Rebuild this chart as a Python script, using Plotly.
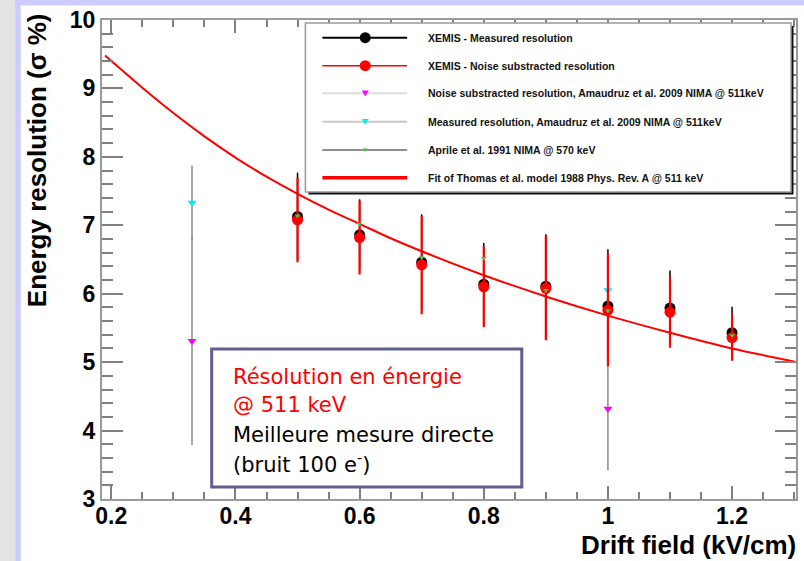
import plotly.graph_objects as go

# ---------------- data ----------------
field_xemis = [0.5, 0.6, 0.7, 0.8, 0.9, 1.0, 1.1, 1.2]
res_measured = [7.13, 6.86, 6.46, 6.14, 6.11, 5.82, 5.79, 5.43]
err_measured = [0.64, 0.52, 0.70, 0.60, 0.76, 0.83, 0.55, 0.38]
res_noise_sub = [7.08, 6.82, 6.42, 6.10, 6.08, 5.76, 5.73, 5.36]
err_noise_sub = [0.62, 0.54, 0.72, 0.59, 0.76, 0.82, 0.52, 0.34]

field_amaudruz = [0.33, 1.0]
res_amaudruz_meas = [7.33, 6.05]
err_amaudruz_meas = [0.54, 0.34]
res_amaudruz_noise = [5.31, 4.32]
err_amaudruz_noise = [1.52, 0.90]

field_aprile = [0.5, 0.6, 0.7, 0.8, 0.9, 1.0, 1.2]
res_aprile = [7.14, 7.02, 6.53, 6.52, 6.05, 5.75, 5.39]

fit_field = [0.19, 0.25, 0.30, 0.35, 0.40, 0.45, 0.50, 0.55, 0.60, 0.65,
             0.70, 0.80, 0.90, 1.00, 1.10, 1.20, 1.30]
fit_res = [9.48, 9.01, 8.64, 8.30, 7.99, 7.71, 7.46, 7.23, 7.02, 6.81,
           6.62, 6.27, 5.96, 5.68, 5.43, 5.20, 5.01]

x_tickvals = [0.2, 0.4, 0.6, 0.8, 1.0, 1.2]
x_ticktext = ["0.2", "0.4", "0.6", "0.8", "1", "1.2"]
y_tickvals = [3, 4, 5, 6, 7, 8, 9, 10]
y_ticktext = ["3", "4", "5", "6", "7", "8", "9", "10"]

legend_labels = [
    "XEMIS - Measured resolution",
    "XEMIS - Noise substracted resolution",
    "Noise substracted resolution, Amaudruz et al. 2009 NIMA @ 511keV",
    "Measured resolution, Amaudruz et al. 2009 NIMA @ 511keV",
    "Aprile et al. 1991 NIMA @ 570 keV",
    "Fit of Thomas et al. model 1988 Phys. Rev. A @ 511 keV",
]

box_lines = [
    ("Résolution en énergie", "#ff0000"),
    ("@ 511 keV", "#ff0000"),
    ("Meilleure mesure directe", "#000000"),
    ("(bruit 100 e<sup>-</sup>)", "#000000"),
]

# ---------------- geometry helpers ----------------
W_FIG, H_FIG = 804, 561
L, R, T, B = 102, 798, 20, 499
PW, PH = R - L, B - T


def px(xp):
    return (xp - L) / PW


def py(yp):
    return (B - yp) / PH


fig = go.Figure()

# Amaudruz measured (cyan) and noise subtracted (magenta)
fig.add_trace(go.Scatter(
    x=field_amaudruz, y=res_amaudruz_noise, mode="markers",
    marker=dict(symbol="triangle-down", size=8, color="#ff00ff"),
    error_y=dict(type="data", array=err_amaudruz_noise, color="#8a8a8a",
                 thickness=1.5, width=0),
    showlegend=False))
fig.add_trace(go.Scatter(
    x=field_amaudruz, y=res_amaudruz_meas, mode="markers",
    marker=dict(symbol="triangle-down", size=8, color="#00eeee"),
    error_y=dict(type="data", array=err_amaudruz_meas, color="#8a8a8a",
                 thickness=1.5, width=0),
    showlegend=False))

# Fit curve
fig.add_trace(go.Scatter(
    x=fit_field, y=fit_res, mode="lines",
    line=dict(color="#ff0000", width=2, shape="spline", smoothing=0.8),
    showlegend=False))

# XEMIS measured (black)
fig.add_trace(go.Scatter(
    x=field_xemis, y=res_measured, mode="markers",
    marker=dict(symbol="circle", size=11, color="#000000"),
    error_y=dict(type="data", array=err_measured, color="#000000",
                 thickness=1.5, width=0),
    showlegend=False))

# XEMIS noise subtracted (red)
fig.add_trace(go.Scatter(
    x=field_xemis, y=res_noise_sub, mode="markers",
    marker=dict(symbol="circle", size=11, color="#ff0000"),
    error_y=dict(type="data", array=err_noise_sub, color="#ff0000",
                 thickness=2.2, width=0),
    showlegend=False))

# Aprile (green)
fig.add_trace(go.Scatter(
    x=field_aprile, y=res_aprile, mode="markers",
    marker=dict(symbol="triangle-down", size=5, color="#44cc44"),
    showlegend=False))

shapes = []
# page background decoration
shapes.append(dict(type="rect", xref="paper", yref="paper", layer="below",
                   x0=px(-5), x1=px(15), y0=py(H_FIG + 5), y1=py(-5),
                   fillcolor="#e4e4e4", line=dict(width=0)))
shapes.append(dict(type="rect", xref="paper", yref="paper", layer="below",
                   x0=px(15), x1=px(20.5), y0=py(H_FIG + 5), y1=py(-5),
                   fillcolor="#ccccff", line=dict(width=0)))
shapes.append(dict(type="rect", xref="paper", yref="paper", layer="below",
                   x0=px(15), x1=px(W_FIG + 5), y0=py(5.5), y1=py(-5),
                   fillcolor="#ccccff", line=dict(width=0)))

# legend box with shadow
lx0, ly0, lx1, ly1 = 306, 23, 793, 192
shapes.append(dict(type="rect", xref="paper", yref="paper", layer="above",
                   x0=px(lx0 + 3), x1=px(lx1 + 2.5), y0=py(ly1 + 2.5), y1=py(ly0 + 3),
                   fillcolor="#111111", line=dict(width=0)))
shapes.append(dict(type="rect", xref="paper", yref="paper", layer="above",
                   x0=px(lx0), x1=px(lx1), y0=py(ly1), y1=py(ly0),
                   fillcolor="#ffffff", line=dict(color="#9a9a9a", width=1.5)))

row_y = [37.7, 65.7, 93.3, 121.7, 150.0, 177.7]
key_styles = [
    ("#000000", 2.0), ("#ff0000", 1.5), ("#dcdcdc", 2.0),
    ("#c8c8c8", 2.0), ("#6a6a6a", 1.5), ("#ff0000", 3.5),
]
kx0, kx1, kxm = 323, 408, 366
for (col, w), yy in zip(key_styles, row_y):
    shapes.append(dict(type="line", xref="paper", yref="paper", layer="above",
                       x0=px(kx0), x1=px(kx1), y0=py(yy), y1=py(yy),
                       line=dict(color=col, width=w)))


def circ(cx, cy, r, col):
    return dict(type="circle", xref="paper", yref="paper", layer="above",
                x0=px(cx - r), x1=px(cx + r), y0=py(cy + r), y1=py(cy - r),
                fillcolor=col, line=dict(width=0))


def tri(cx, cy, s, col):
    path = "M {} {} L {} {} L {} {} Z".format(
        px(cx - s), py(cy - s * 0.8), px(cx + s), py(cy - s * 0.8),
        px(cx), py(cy + s * 0.9))
    return dict(type="path", xref="paper", yref="paper", layer="above",
                path=path, fillcolor=col, line=dict(width=0))


shapes.append(circ(kxm, row_y[0], 5.5, "#000000"))
shapes.append(circ(kxm, row_y[1], 5.5, "#ff0000"))
shapes.append(tri(kxm, row_y[2], 3.5, "#ff00ff"))
shapes.append(tri(kxm, row_y[3], 3.5, "#00eeee"))
shapes.append(tri(kxm, row_y[4], 2.2, "#44cc44"))

# text box
shapes.append(dict(type="rect", xref="paper", yref="paper", layer="above",
                   x0=px(212), x1=px(523), y0=py(487), y1=py(349),
                   fillcolor="#ffffff", line=dict(color="#5f5f90", width=3)))

annotations = []
for lab, yy in zip(legend_labels, row_y):
    annotations.append(dict(
        text=lab, xref="paper", yref="paper", x=px(427), y=py(yy),
        xanchor="left", yanchor="middle", showarrow=False,
        font=dict(family="Liberation Sans", size=10.5, color="#111111",
                  weight="bold")))

box_y = [376.7, 405.0, 435.0, 463.0]
for (txt, col), yy in zip(box_lines, box_y):
    annotations.append(dict(
        text=txt, xref="paper", yref="paper", x=px(231), y=py(yy),
        xanchor="left", yanchor="middle", showarrow=False,
        font=dict(family="DejaVu Sans", size=21, color=col)))

annotations.append(dict(
    text="Energy resolution (σ %)", xref="paper", yref="paper",
    x=px(37), y=py(160), textangle=-90, xanchor="center", yanchor="middle",
    showarrow=False,
    font=dict(family="Liberation Sans", size=26, color="#000000", weight="bold")))
annotations.append(dict(
    text="Drift field (kV/cm)", xref="paper", yref="paper",
    x=px(800), y=py(545), xanchor="right", yanchor="middle", showarrow=False,
    font=dict(family="Liberation Sans", size=26, color="#000000", weight="bold")))

tickfont = dict(family="Liberation Sans", size=23, color="#000000", weight="bold")

fig.update_layout(
    width=W_FIG, height=H_FIG,
    margin=dict(l=L, r=W_FIG - R, t=T, b=H_FIG - B, pad=0),
    paper_bgcolor="#ffffff", plot_bgcolor="#ffffff",
    showlegend=False,
    shapes=shapes, annotations=annotations,
    xaxis=dict(range=[0.185, 1.303], tickvals=x_tickvals, ticktext=x_ticktext,
               ticks="inside", ticklen=13, tickwidth=1.5, tickcolor="#808080",
               showline=True, linecolor="#9a9a9a", linewidth=2, mirror="ticks",
               showgrid=False, zeroline=False, tickfont=tickfont,
               ticklabelstandoff=-5,
               minor=dict(ticks="inside", ticklen=7, tickwidth=1.5,
                          tickcolor="#808080", dtick=0.05, tick0=0.2,
                          showgrid=False)),
    yaxis=dict(range=[3, 10], tickvals=y_tickvals, ticktext=y_ticktext,
               ticks="inside", ticklen=21, tickwidth=1.5, tickcolor="#808080",
               showline=True, linecolor="#9a9a9a", linewidth=2, mirror="ticks",
               showgrid=False, zeroline=False, tickfont=tickfont,
               ticklabelstandoff=0,
               minor=dict(ticks="inside", ticklen=11, tickwidth=1.5,
                          tickcolor="#808080", dtick=0.2, tick0=3,
                          showgrid=False)),
)

fig.write_html(
    "out.html",
    config={"displayModeBar": False},
    post_script="document.body.style.margin='0';document.body.style.overflow='hidden';",
)
